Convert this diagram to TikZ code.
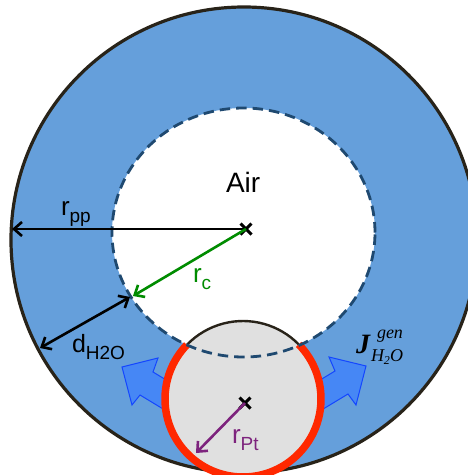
\documentclass[tikz,border=0pt]{standalone}
\usepackage{fontspec}
\setmainfont{Liberation Sans}
\newfontfamily\serifmath{Liberation Serif}
\usetikzlibrary{arrows.meta,shapes.misc}
\definecolor{water}{RGB}{101,159,219}
\definecolor{ptgray}{RGB}{224,224,224}
\definecolor{ptred}{RGB}{255,40,0}
\definecolor{navy}{RGB}{31,73,112}
\definecolor{rimc}{RGB}{40,35,25}
\definecolor{flux}{RGB}{70,135,245}
\definecolor{fluxedge}{RGB}{20,70,255}
\definecolor{rcgreen}{RGB}{0,140,0}
\definecolor{ptpurple}{RGB}{125,35,125}
\begin{document}
\begin{tikzpicture}[x=1pt,y=-1pt,
  lbl/.style={inner sep=0pt, outer sep=0pt, anchor=base west},
  xmark/.style={draw=black, cross out, minimum size=8pt, inner sep=0pt, line width=3pt},
  dimline/.style={line width=2.6pt, -{Straight Barb[length=8pt,width=14pt,line width=2.6pt]}},
  dimboth/.style={line width=2.6pt, {Straight Barb[length=8pt,width=14pt,line width=2.6pt]}-{Straight Barb[length=8pt,width=14pt,line width=2.6pt]}},
  fluxarrow/.style={fill=flux, draw=fluxedge, line width=1pt, line join=miter}
]
\useasboundingbox (0,0) rectangle (468,475);
\fill[white] (0,0) rectangle (468,475);
\begin{scope}
\clip (0,0) rectangle (468,475);
% water layer
\fill[water, even odd rule] (244,240) circle[radius=233pt] (243.5,232.5) ellipse[x radius=131.5pt, y radius=124.5pt];
\draw[rimc, line width=3.2pt] (244,240) circle[radius=233pt];
% flux arrows
\draw[fluxarrow] (122,367) -- (158,358) -- (153,372) -- (196,398) -- (183,421) -- (140,395) -- (132,405) -- cycle;
\draw[fluxarrow] (366,366) -- (329,357) -- (335,371) -- (292,397) -- (305,420) -- (348,394) -- (356,405) -- cycle;
% Pt particle
\fill[ptgray] (243,399) circle[radius=78pt];
\draw[rimc, line width=2.4pt] ([shift={(243,399)}]44.5:78pt) arc[start angle=44.5, end angle=136, radius=78pt];
\draw[ptred, line width=7.5pt] ([shift={(243,399)}]136:78pt) arc[start angle=136, end angle=404.5, radius=78pt];
% carbon/air boundary
\draw[navy, line width=2.8pt, dash pattern=on 10.5pt off 6pt] (243.5,232.5) ellipse[x radius=131.5pt, y radius=124.5pt];
\end{scope}
% points
\node[xmark] (O) at (246,229) {};
\node[xmark] (P) at (245,403) {};
\coordinate (Epp) at (12,229);
\coordinate (Ec) at (133,296);
\coordinate (Da) at (130,297);
\coordinate (Db) at (40,348);
\coordinate (Ept) at (196,453);
% dimension arrows
\draw[dimline, black] (O.center) -- (Epp);
\draw[dimline, rcgreen] (O.center) -- (Ec);
\draw[dimboth, black] (Da) -- (Db);
\draw[dimline, ptpurple] (P.center) -- (Ept);
% labels
\node[lbl] (air) at (226,192) {\fontsize{28}{30}\selectfont Air};
\node[lbl] (rpp) at (61,215) {\fontsize{26}{26}\selectfont r\raisebox{-7pt}{\fontsize{19}{19}\selectfont pp}};
\node[lbl, text=rcgreen] (rc) at (193,282) {\fontsize{26}{26}\selectfont r\raisebox{-7pt}{\fontsize{19}{19}\selectfont c}};
\node[lbl] (dh) at (72,352) {\fontsize{25}{25}\selectfont d\raisebox{-7pt}{\fontsize{19}{19}\selectfont H2O}};
\node[lbl, text=ptpurple] (rpt) at (232,443) {\fontsize{26}{26}\selectfont r\raisebox{-7pt}{\fontsize{19}{19}\selectfont Pt}};
\node[lbl] (J) at (356,353) {\serifmath\bfseries\itshape\fontsize{28}{28}\selectfont J};
\node[lbl] (gen) at (377,338) {\serifmath\itshape\fontsize{18}{18}\selectfont gen};
\node[lbl] (h2o) at (371,361) {\serifmath\itshape\fontsize{18}{18}\selectfont H\raisebox{-3pt}{\fontsize{12}{12}\selectfont 2}O};
\end{tikzpicture}
\end{document}
